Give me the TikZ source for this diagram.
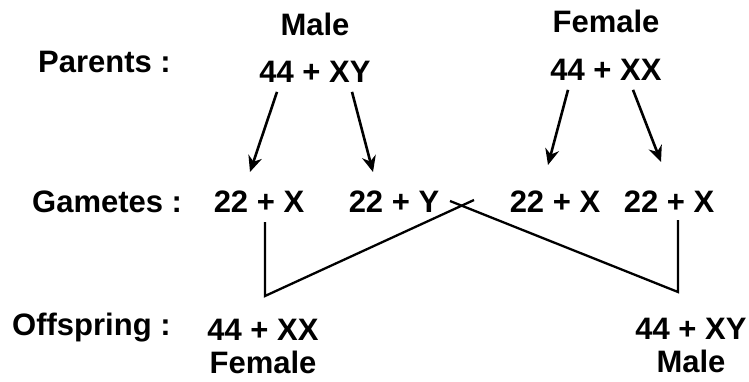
\documentclass[tikz,border=0pt]{standalone}
\usepackage{fontspec}
\setmainfont{Liberation Sans}
\usepackage{tikz}
\usetikzlibrary{positioning,arrows.meta}

\begin{document}
\begin{tikzpicture}[x=1pt, y=-1pt,
  txt/.style={inner sep=0pt, font=\fontsize{31}{36}\selectfont\bfseries},
  etiqueta/.style={txt, anchor=west},
  flecha/.style={-{Stealth[length=16pt, width=14pt]}, line width=2.6pt},
  cruce/.style={line width=2.3pt}]
\useasboundingbox (0,0) rectangle (749,381);
% filas
\node[etiqueta] (lpar) at (38,62) {Parents :};
\node[etiqueta] (lgam) at (32,202) {Gametes :};
\node[etiqueta] (loff) at (12,328) {Offspring :};
% padres
\node[txt] (pm) at (315,72) {44 + XY};
\node[txt, above=25pt of pm] (sm) {Male};
\node[txt] (pf) at (606,70) {44 + XX};
\node[txt, above=26pt of pf] (sf) {Female};
% gametos
\node[txt] (g1) at (259,202) {22 + X};
\node[txt] (g2) at (394,202) {22 + Y};
\node[txt] (g3) at (555,202) {22 + X};
\node[txt] (g4) at (669,202) {22 + X};
% descendencia
\node[txt] (o1) at (263,330) {44 + XX};
\node[txt, below=10pt of o1] (so1) {Female};
\node[txt] (o2) at (691,329) {44 + XY};
\node[txt, below=10pt of o2] (so2) {Male};
\foreach \a/\dx/\b/\ex/\ey in {pm/-38/g1/-9/19, pm/37/g2/-21/19, pf/-38/g3/-7/26, pf/27/g4/-8/29}
  \draw[flecha] ([xshift=\dx pt, yshift=-9pt]\a.south) -- ([xshift=\ex pt, yshift=\ey pt]\b.north);
\coordinate (c1) at (265,296);
\coordinate (c2) at (678,292);
\coordinate (x1) at (474,200);
\coordinate (x2) at (450,201);
\draw[cruce] ([xshift=6pt, yshift=-9pt]g1.south) -- (c1) -- (x1);
\draw[cruce] (x2) -- (c2) -- ([xshift=9pt, yshift=-7pt]g4.south);
\end{tikzpicture}
\end{document}
